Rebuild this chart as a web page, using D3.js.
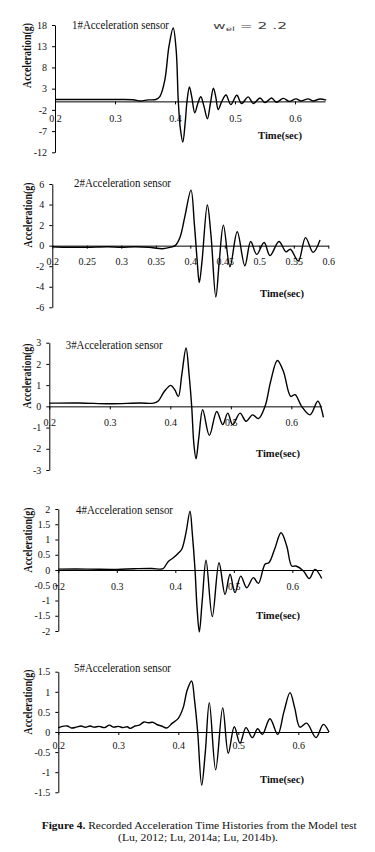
<!DOCTYPE html>
<html>
<head>
<meta charset="utf-8">
<script src="https://cdn.jsdelivr.net/npm/d3@7"></script>
<style>
  html, body { margin: 0; padding: 0; background: #fff; }
  svg { display: block; }
  .tick text { font-family: "Liberation Serif", "Times New Roman", serif; font-size: 10px; fill: #111; }
  .domain, .tick line { stroke: #000; stroke-width: 1; }
</style>
</head>
<body>
<svg id="chart" width="375" height="852"></svg>
<script>
// ---------- DATA ----------
const time1 = [0.2,0.25,0.3,0.33,0.342,0.355,0.368,0.375,0.383,0.39,0.397,0.402,0.4055,0.409,0.413,0.417,0.42,0.424,0.428,0.433,0.438,0.443,0.448,0.454,0.459,0.464,0.468,0.472,0.478,0.485,0.493,0.503,0.511,0.522,0.5305,0.5417,0.55,0.561,0.569,0.5805,0.5905,0.6017,0.61,0.622,0.63,0.6417,0.652];
const accel1 = [0.45,0.45,0.45,0.4,0.1,0.35,0.45,1.2,5,13,17.3,12,0,-6.5,-9.6,-5,0,3.4,1,-2.7,-0.5,1.1,-1,-4.1,-0.5,3.1,1,-1.9,0,1.5,-0.75,1.45,-0.5,1.06,-0.5,0.8,-0.3,0.8,-0.2,0.7,0,0.6,0.1,0.6,0.1,0.55,0.3];

const time2 = [0.2,0.22,0.25,0.28,0.3,0.32,0.34,0.36,0.372,0.378,0.385,0.392,0.401,0.406,0.41,0.413,0.417,0.4247,0.43,0.437,0.442,0.448,0.4575,0.468,0.479,0.4875,0.4962,0.507,0.5155,0.5285,0.5387,0.545,0.5565,0.567,0.578,0.588];
const accel2 = [-0.1,-0.15,-0.15,-0.1,-0.15,-0.1,-0.15,-0.3,-0.15,0,0.8,2.8,5.4,2,-1.5,-3.6,-1.5,3.96,1,-5.0,-1.5,2.0,-2.05,1.36,-1.95,0.4,-0.85,0.3,-0.97,0.4,-0.6,-0.35,-1.5,0.78,-0.65,0.55];

const time3 = [0.2,0.25,0.3,0.35,0.372,0.38,0.39,0.4007,0.407,0.4133,0.419,0.426,0.431,0.4353,0.439,0.4425,0.447,0.4535,0.4645,0.4767,0.4866,0.4949,0.503,0.5152,0.5251,0.536,0.5455,0.5565,0.566,0.5769,0.5868,0.599,0.6061,0.617,0.631,0.6437,0.653];
const accel3 = [0.15,0.16,0.12,0.16,0.15,0.25,0.7,0.99,0.8,0.47,1.5,2.75,1.5,0,-1.8,-2.47,-1.5,-0.16,-1.37,-0.24,-0.86,-0.32,-0.86,-0.32,-0.7,-0.4,-0.58,0,1.2,2.16,1.65,0.47,0.55,0,-0.4,0.24,-0.52];

const time4 = [0.2,0.25,0.3,0.33,0.36,0.375,0.3795,0.388,0.3966,0.405,0.411,0.418,0.4251,0.429,0.4337,0.437,0.441,0.446,0.4525,0.4632,0.4747,0.485,0.4935,0.502,0.5118,0.522,0.5333,0.5419,0.5533,0.56,0.57,0.5807,0.5904,0.599,0.6063,0.619,0.629,0.6388,0.6503];
const accel4 = [0.03,0.03,0.02,0.04,0.05,0.03,0.05,0.28,0.4,0.55,0.68,1.2,1.93,1.2,0,-1.2,-2.03,-1.0,0.32,-1.53,0.24,-0.8,-0.14,-0.74,-0.2,-0.58,-0.25,-0.44,0.19,0.24,0.7,1.22,0.79,0.13,0.13,-0.03,-0.28,0.02,-0.28];

const time5 = [0.2,0.207,0.215,0.222,0.23,0.238,0.245,0.253,0.26,0.268,0.277,0.285,0.292,0.3,0.308,0.315,0.32,0.328,0.335,0.343,0.35,0.358,0.365,0.372,0.3807,0.39,0.4,0.408,0.415,0.4222,0.427,0.4323,0.439,0.445,0.4517,0.4623,0.474,0.4833,0.4933,0.5028,0.5128,0.5233,0.5323,0.54,0.5528,0.5657,0.576,0.5862,0.594,0.6028,0.614,0.6295,0.6417,0.6512];
const accel5 = [0.1,0.14,0.15,0.1,0.12,0.15,0.12,0.15,0.12,0.14,0.11,0.17,0.12,0.14,0.11,0.13,0.09,0.15,0.17,0.25,0.23,0.24,0.18,0.15,0.1,0.22,0.34,0.6,1.05,1.27,0.8,0,-1.32,-0.5,0.73,-0.94,0.6,-0.53,0.13,-0.28,0.11,-0.14,0.08,-0.06,0.33,-0.06,0.5,0.98,0.6,0.12,0.22,-0.14,0.19,0];

const xTicks1 = [0.2,0.3,0.4,0.5,0.6];
const xTicks2 = [0.2,0.25,0.3,0.35,0.4,0.45,0.5,0.55,0.6];
const yTicks1 = [-12,-7,-2,3,8,13,18];
const yTicks2 = [-6,-4,-2,0,2,4,6];
const yTicks3 = [-3,-2,-1,0,1,2,3];
const yTicks4 = [-2,-1.5,-1,-0.5,0,0.5,1,1.5,2];
const yTicks5 = [-1.5,-1,-0.5,0,0.5,1,1.5];
const titles = ["1#Acceleration sensor","2#Acceleration sensor","3#Acceleration sensor","4#Acceleration sensor","5#Acceleration sensor"];

// ---------- LAYOUT ----------
const panels = [
  {t: time1, a: accel1, xd:[0.2,0.65], xt: xTicks1, yd:[-12,18], yt: yTicks1, L:55, R:325, B:152.3, T:25, pad:11, title:[72,25], time:[258,135], ylab:[27,55.5]},
  {t: time2, a: accel2, xd:[0.2,0.6], xt: xTicks2, yd:[-6,6], yt: yTicks2, L:52.3, R:328.3, B:307.3, T:184, pad:9, title:[74,182.7], time:[260,292.7], ylab:[28,215]},
  {t: time3, a: accel3, xd:[0.2,0.65], xt: xTicks1, yd:[-3,3], yt: yTicks3, L:49.3, R:321.6, B:470, T:342.7, pad:9.5, title:[65.7,345], time:[256,453], ylab:[27,376]},
  {t: time4, a: accel4, xd:[0.2,0.65], xt: xTicks1, yd:[-2,2], yt: yTicks4, L:58.3, R:321.6, B:631, T:509, pad:10, title:[76,510], time:[256,615], ylab:[28,540]},
  {t: time5, a: accel5, xd:[0.2,0.65], xt: xTicks1, yd:[-1.5,1.5], yt: yTicks5, L:58.3, R:328.3, B:792.3, T:671.7, pad:7, title:[74,668], time:[260,779], ylab:[28,702]}
];

const svg = d3.select("#chart");
const serif = '"Liberation Serif", "Times New Roman", serif';

panels.forEach((p, i) => {
  const x = d3.scaleLinear().domain(p.xd).range([p.L, p.R]);
  const y = d3.scaleLinear().domain(p.yd).range([p.B, p.T]);
  const g = svg.append("g");

  // y axis
  g.append("g")
    .attr("transform", `translate(${p.L},0)`)
    .call(d3.axisLeft(y).tickValues(p.yt).tickSize(3).tickSizeOuter(0).tickPadding(5).tickFormat(d => String(d)));

  // x axis at zero
  g.append("g")
    .attr("transform", `translate(0,${y(0)})`)
    .call(d3.axisBottom(x).tickValues(p.xt).tickSize(3).tickSizeOuter(0).tickPadding(p.pad).tickFormat(d => String(d)));

  // curve
  const line = d3.line()
    .x((d, k) => x(p.t[k]))
    .y((d, k) => y(p.a[k]))
    .curve(d3.curveCatmullRom.alpha(0.5));
  g.append("path")
    .attr("d", line(p.a))
    .attr("fill", "none")
    .attr("stroke", "#000")
    .attr("stroke-width", 1.4)
    .attr("stroke-linejoin", "round");

  // title
  g.append("text")
    .attr("x", p.title[0]).attr("y", p.title[1])
    .attr("dominant-baseline", "central")
    .attr("font-family", serif).attr("font-size", 11.5)
    .attr("textLength", 97).attr("lengthAdjust", "spacingAndGlyphs")
    .attr("fill", "#111")
    .text(titles[i]);

  // Time(sec)
  g.append("text")
    .attr("x", p.time[0]).attr("y", p.time[1])
    .attr("dominant-baseline", "central")
    .attr("font-family", serif).attr("font-size", 11).attr("font-weight", "bold")
    .attr("textLength", 44).attr("lengthAdjust", "spacingAndGlyphs")
    .attr("fill", "#111")
    .text("Time(sec)");

  // y label
  g.append("text")
    .attr("transform", `translate(${p.ylab[0]},${p.ylab[1]}) rotate(-90)`)
    .attr("text-anchor", "middle")
    .attr("dominant-baseline", "central")
    .attr("font-family", serif).attr("font-size", 11.5).attr("font-weight", "bold")
    .attr("textLength", 65).attr("lengthAdjust", "spacingAndGlyphs")
    .attr("fill", "#111")
    .text("Acceleration(g)");
});

// stray annotation in panel 1
const ann = svg.append("text")
  .attr("x", 213).attr("y", 26)
  .attr("dominant-baseline", "central")
  .attr("font-family", '"DejaVu Sans", sans-serif').attr("font-size", 9)
  .attr("fill", "#444")
  .attr("textLength", 74).attr("lengthAdjust", "spacingAndGlyphs");
ann.append("tspan").text("w");
ann.append("tspan").attr("font-size", 6).attr("dy", 2).text("el");
ann.append("tspan").attr("dy", -2).text(" = 2 .2");

// caption
const cap1 = svg.append("text")
  .attr("x", 41.7).attr("y", 825)
  .attr("dominant-baseline", "central")
  .attr("font-family", serif).attr("font-size", 11)
  .attr("textLength", 315).attr("lengthAdjust", "spacingAndGlyphs")
  .attr("fill", "#111");
cap1.append("tspan").attr("font-weight", "bold").text("Figure 4.");
cap1.append("tspan").text(" Recorded Acceleration Time Histories from the Model test");

svg.append("text")
  .attr("x", 198).attr("y", 837)
  .attr("text-anchor", "middle")
  .attr("dominant-baseline", "central")
  .attr("font-family", serif).attr("font-size", 11)
  .attr("textLength", 160).attr("lengthAdjust", "spacingAndGlyphs")
  .attr("fill", "#111")
  .text("(Lu, 2012; Lu, 2014a; Lu, 2014b).");
</script>
</body>
</html>
